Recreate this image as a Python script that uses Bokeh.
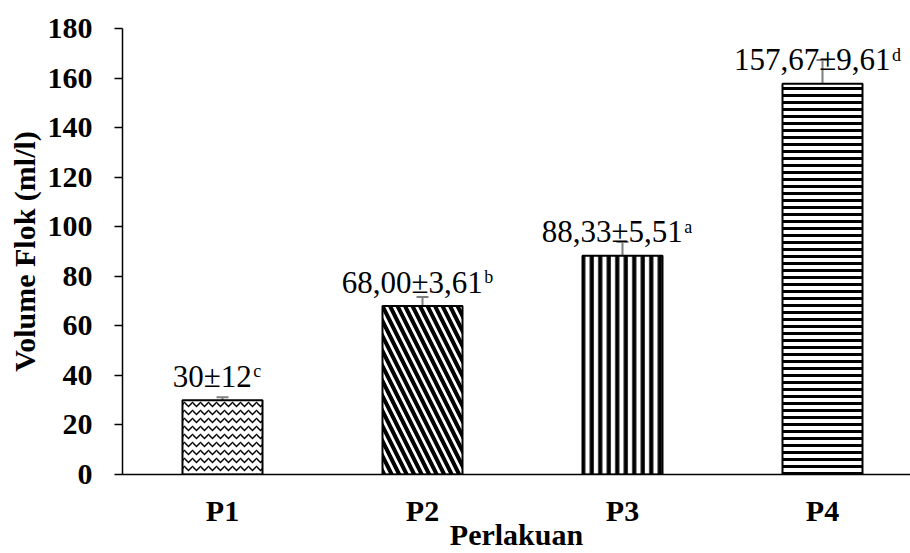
from bokeh.plotting import figure
from bokeh.models import ColumnDataSource, Whisker, TeeHead, FixedTicker, Range1d
from bokeh.core.properties import value
from bokeh.embed import file_html
from bokeh.resources import INLINE

# ---- data ----
categories = ["P1", "P2", "P3", "P4"]
means = [30.0, 68.00, 88.33, 157.67]
errors = [1.2, 3.61, 5.51, 9.61]
label_texts = ["30\u00b112", "68,00\u00b13,61", "88,33\u00b15,51", "157,67\u00b19,61"]
sup_letters = ["c", "b", "a", "d"]
y_ticks = [0, 20, 40, 60, 80, 100, 120, 140, 160, 180]

# ---- styles ----
hatches = ["horizontal_wave", "left_diagonal_line", "vertical_line", "horizontal_line"]
hatch_scales = [8, 15, 8.5, 7]
hatch_weights = [1.5, 4, 4.2, 3]
FONT = "Liberation Serif"
LBL_PX = 31
SUP_PX = 18

# Times-metric advance widths (em) for label placement
cw = {c: 0.5 for c in "0123456789"}
cw.update({",": 0.25, "\u00b1": 0.564})
def width_px(s, px):
    return sum(cw.get(ch, 0.5) for ch in s) * px

xs = [i + 0.5 for i in range(len(categories))]
main_w = [width_px(t, LBL_PX) for t in label_texts]
main_off = [-m / 2 - 10 for m in main_w]
sup_off = [o + m + 1 for o, m in zip(main_off, main_w)]

src = ColumnDataSource(dict(
    x=xs, top=means,
    upper=[m + e for m, e in zip(means, errors)],
    lower=[m - e for m, e in zip(means, errors)],
    hatch=hatches, hscale=hatch_scales, hweight=hatch_weights,
    txt=label_texts, sup=sup_letters, moff=main_off, soff=sup_off,
))

p = figure(width=910, height=553, x_range=Range1d(0, 3.94), y_range=Range1d(0, 180),
           output_backend="svg", toolbar_location=None,
           min_border_left=122, min_border_right=0, min_border_top=28, min_border_bottom=79)
p.outline_line_color = None
p.xgrid.grid_line_color = None
p.ygrid.grid_line_color = None
p.background_fill_color = "white"
p.border_fill_color = "white"

p.vbar(x="x", top="top", bottom=0, width=0.4, source=src,
       fill_color="white", line_color="black", line_width=2,
       hatch_pattern="hatch", hatch_scale="hscale", hatch_weight="hweight",
       hatch_color="black")

grey = "#7f7f7f"
w = Whisker(source=src, base="x", upper="upper", lower="lower",
            line_color=grey, line_width=2,
            upper_head=TeeHead(size=12, line_color=grey, line_width=2),
            lower_head=TeeHead(size=12, line_color=grey, line_width=2))
p.add_layout(w)

p.text(x="x", y="top", text="txt", source=src, x_offset="moff", y_offset=-24,
       text_align="left", text_baseline="alphabetic",
       text_font=value(FONT), text_font_size=f"{LBL_PX}px", text_color="black")
p.text(x="x", y="top", text="sup", source=src, x_offset="soff", y_offset=-29,
       text_align="left", text_baseline="alphabetic",
       text_font=value(FONT), text_font_size=f"{SUP_PX}px", text_color="black")

# x axis
p.xaxis.ticker = FixedTicker(ticks=xs)
p.xaxis.major_label_overrides = {x: c for x, c in zip(xs, categories)}
p.xaxis.major_tick_out = 0
p.xaxis.major_tick_in = 0
p.xaxis.minor_tick_out = 0
p.xaxis.minor_tick_in = 0
p.xaxis.major_label_standoff = 19
p.xaxis.axis_label = "Perlakuan"
p.xaxis.axis_label_standoff = -12

# y axis
p.yaxis.ticker = FixedTicker(ticks=y_ticks)
p.yaxis.major_tick_out = 8
p.yaxis.major_tick_in = 0
p.yaxis.minor_tick_out = 0
p.yaxis.minor_tick_in = 0
p.yaxis.major_label_standoff = 22
p.yaxis.axis_label = "Volume Flok (ml/l)"
p.yaxis.axis_label_standoff = 4

for ax in (p.xaxis, p.yaxis):
    ax.axis_line_color = "black"
    ax.axis_line_width = 1.5
    ax.major_tick_line_color = "black"
    ax.major_tick_line_width = 1.5
    ax.major_label_text_font = FONT
    ax.major_label_text_font_style = "bold"
    ax.major_label_text_font_size = "30px"
    ax.major_label_text_color = "black"
    ax.axis_label_text_font = FONT
    ax.axis_label_text_font_style = "bold"
    ax.axis_label_text_font_size = "30px"
    ax.axis_label_text_color = "black"

open("out.html", "w").write(file_html(p, INLINE))
